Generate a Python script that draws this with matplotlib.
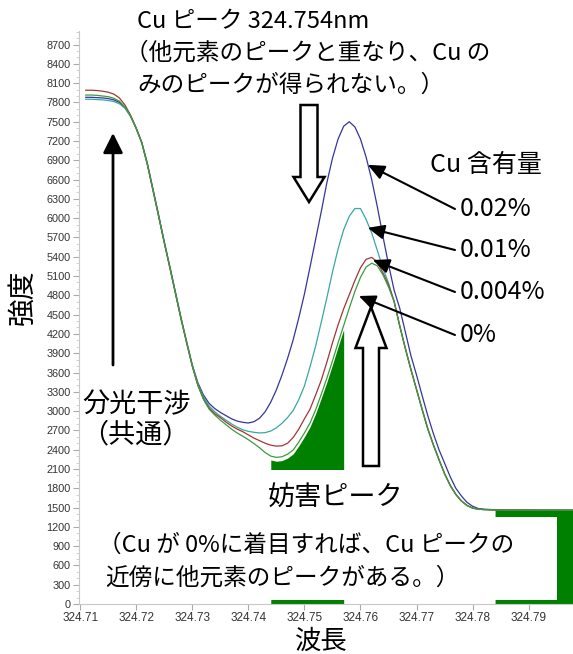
import matplotlib
matplotlib.use('Agg')
import matplotlib.pyplot as plt
from matplotlib.patches import FancyArrow, Rectangle
from matplotlib.transforms import IdentityTransform
from matplotlib.ticker import MultipleLocator
import numpy as np

plt.rcParams['font.family'] = ['Noto Sans CJK JP', 'DejaVu Sans']

# 波長 (nm)
wavelength = [
    324.711, 324.712, 324.713, 324.714, 324.715, 324.716, 324.717, 324.718, 324.719, 324.720,
    324.721, 324.722, 324.723, 324.724, 324.725, 324.726, 324.727, 324.728, 324.729, 324.730,
    324.731, 324.732, 324.733, 324.734, 324.735, 324.736, 324.737, 324.738, 324.739, 324.740,
    324.741, 324.742, 324.743, 324.744, 324.745, 324.746, 324.747, 324.748, 324.749, 324.750,
    324.751, 324.752, 324.753, 324.754, 324.755, 324.756, 324.757, 324.758, 324.759, 324.760,
    324.761, 324.762, 324.763, 324.764, 324.765, 324.766, 324.767, 324.768, 324.769, 324.770,
    324.771, 324.772, 324.773, 324.774, 324.775, 324.776, 324.777, 324.778, 324.779, 324.780,
    324.781, 324.782, 324.783, 324.784, 324.785,
    324.787, 324.789, 324.791, 324.793, 324.795, 324.798]

# 強度 Cu 0.02%
cu_002 = [
    7880, 7880, 7875, 7870, 7860, 7840, 7800, 7720, 7590, 7400,
    7180, 6850, 6450, 6050, 5640, 5250, 4850, 4450, 4080, 3720,
    3440, 3250, 3120, 3040, 2980, 2930, 2880, 2845, 2825, 2815,
    2835, 2890, 2990, 3140, 3330, 3560, 3820, 4110, 4450, 4820,
    5240, 5670, 6100, 6550, 6930, 7230, 7430, 7500, 7420, 7230,
    6950, 6600, 6180, 5720, 5280, 4880, 4600, 4230, 3860, 3560,
    3240, 2930, 2650, 2400, 2190, 1980, 1800, 1680, 1580, 1520,
    1485, 1475, 1470, 1466, 1465,
    1463, 1462, 1461, 1460, 1460, 1459]

# 強度 Cu 0.01%
cu_001 = [
    7850, 7850, 7845, 7840, 7830, 7815, 7780, 7710, 7580, 7390,
    7170, 6840, 6440, 6040, 5630, 5240, 4840, 4440, 4070, 3710,
    3420, 3220, 3080, 2990, 2920, 2860, 2800, 2750, 2710, 2685,
    2670, 2660, 2665, 2690, 2740, 2810, 2900, 3010, 3180, 3390,
    3690, 4010, 4380, 4760, 5160, 5520, 5820, 6030, 6150, 6150,
    5980, 5770, 5500, 5220, 4990, 4700, 4330, 3980, 3650, 3340,
    3030, 2730, 2480, 2250, 2030, 1850, 1710, 1605, 1535, 1492,
    1476, 1469, 1466, 1464, 1463,
    1461, 1460, 1460, 1459, 1459, 1458]

# 強度 Cu 0.004%
cu_0004 = [
    7990, 7990, 7985, 7975, 7960, 7930, 7870, 7760, 7600, 7400,
    7170, 6830, 6430, 6030, 5620, 5230, 4830, 4430, 4060, 3700,
    3400, 3190, 3050, 2960, 2900, 2830, 2770, 2720, 2680, 2630,
    2580, 2540, 2500, 2470, 2455, 2460, 2500, 2590, 2720, 2880,
    3030, 3250, 3480, 3760, 4060, 4340, 4590, 4810, 5030, 5230,
    5360, 5390, 5320, 5150, 4960, 4710, 4325, 3975, 3645, 3335,
    3025, 2725, 2475, 2245, 2025, 1845, 1705, 1602, 1532, 1491,
    1475, 1468, 1465, 1463, 1462,
    1461, 1460, 1460, 1459, 1459, 1458]

# 強度 Cu 0%
cu_0 = [
    7915, 7915, 7910, 7900, 7890, 7865, 7820, 7730, 7590, 7400,
    7170, 6830, 6430, 6030, 5620, 5230, 4830, 4430, 4060, 3700,
    3400, 3180, 3030, 2940, 2860, 2790, 2720, 2660, 2610, 2555,
    2495, 2430, 2355, 2300, 2280, 2290, 2330, 2395, 2520, 2660,
    2815, 3020, 3260, 3510, 3780, 4060, 4330, 4600, 4860, 5080,
    5240, 5300, 5260, 5120, 4930, 4700, 4320, 3970, 3640, 3330,
    3020, 2720, 2470, 2240, 2020, 1840, 1700, 1600, 1530, 1490,
    1475, 1468, 1465, 1463, 1462,
    1460, 1460, 1459, 1459, 1458, 1458]

x_ticks = [324.71, 324.72, 324.73, 324.74, 324.75, 324.76, 324.77, 324.78, 324.79]

W, H = 573, 654
fx = lambda x: x / W
fy = lambda y: 1 - y / H

fig = plt.figure(figsize=(W / 100, H / 100), dpi=100)
ax = fig.add_axes([79 / W, 50 / H, 494 / W, 573 / H])

wl = np.array(wavelength)
g = np.array(cu_0)

# 緑の塗り (一部は白い枠で隠れている)
m1 = (wl >= 324.744) & (wl <= 324.757)
ax.fill_between(wl[m1], 0, g[m1] - 60, color='#008000', lw=0, zorder=1)
ax.add_patch(Rectangle((324.7425, 62), 0.016, 2084 - 62, color='white', lw=0, zorder=2))
m2 = wl >= 324.784
ax.fill_between(wl[m2], 0, g[m2], color='#008000', lw=0, zorder=1)
ax.add_patch(Rectangle((324.7839, 62), 324.7950 - 324.7839, 1353 - 62, color='white', lw=0, zorder=2))

ax.plot(wavelength, cu_002, color='#35359a', lw=0.9, zorder=3)
ax.plot(wavelength, cu_001, color='#3aa6a6', lw=0.9, zorder=3)
ax.plot(wavelength, cu_0004, color='#a23636', lw=0.9, zorder=3)
ax.plot(wavelength, cu_0, color='#3c9c3c', lw=0.9, zorder=3)

ax.set_xlim(324.7098, 324.7979)
ax.set_ylim(0, 8911)
ax.set_xticks(x_ticks)
ax.set_xticklabels(['%.2f' % v for v in x_ticks])
ax.set_yticks(range(0, 8701, 300))
ax.yaxis.set_minor_locator(MultipleLocator(100))
for s in ['top', 'right']:
    ax.spines[s].set_visible(False)
for s in ['left', 'bottom']:
    ax.spines[s].set_color('#c8c8c8')
ax.tick_params(direction='out', length=4, color='#aaaaaa', labelcolor='#333333', pad=2)
ax.tick_params(axis='x', labelsize=8.5)
ax.tick_params(axis='y', labelsize=7.8)
ax.tick_params(which='minor', length=2, color='#cccccc')
plt.setp(ax.get_xticklabels() + ax.get_yticklabels(), family='Liberation Sans')

# 軸ラベル
fig.text(fx(22), fy(297), '強度', rotation=90, fontsize=20, ha='center', va='center')
fig.text(fx(321), fy(641), '波長', fontsize=19, ha='center', va='center')

# 注記
fs = 17
fig.text(fx(137), fy(22), 'Cu ピーク 324.754nm', fontsize=fs, va='center')
fig.text(fx(125), fy(53), '（他元素のピークと重なり、Cu の', fontsize=fs, va='center')
fig.text(fx(137), fy(85), 'みのピークが得られない。）', fontsize=fs, va='center')
fig.text(fx(82), fy(405), '分光干涉', fontsize=19.5, va='center')
fig.text(fx(81), fy(435), '（共通）', fontsize=19.5, va='center')
fig.text(fx(430), fy(165), 'Cu 含有量', fontsize=18, va='center')
labels = ['0.02%', '0.01%', '0.004%', '0%']
label_y = [209, 250, 292, 335]
tips = [(324.7613, 6830), (324.7613, 5850), (324.7622, 5350), (324.7597, 4790)]
for lab, ly, tip in zip(labels, label_y, tips):
    fig.text(fx(460), fy(ly), lab, fontsize=18, va='center')
    ax.annotate('', xy=tip, xycoords='data', xytext=(455, H - ly), textcoords='figure pixels',
                arrowprops=dict(arrowstyle='-|>,head_length=0.5,head_width=0.22', color='black',
                                lw=1.5, shrinkA=0, shrinkB=0, mutation_scale=20), zorder=5)
fig.text(fx(268), fy(497), '妨害ピーク', fontsize=19.5, va='center')
fig.text(fx(98), fy(545), '（Cu が 0%に着目すれば、Cu ピークの', fontsize=fs, va='center')
fig.text(fx(105), fy(578), '近傍に他元素のピークがある。）', fontsize=fs, va='center')

# 矢印
fig.add_artist(FancyArrow(309, H - 105, 0, -97, width=17, head_width=31, head_length=25,
                          length_includes_head=True, facecolor='white', edgecolor='black',
                          linewidth=1.8, transform=IdentityTransform()))
fig.add_artist(FancyArrow(371, H - 466, 0, 159, width=16, head_width=31, head_length=41,
                          length_includes_head=True, facecolor='white', edgecolor='black',
                          linewidth=1.8, transform=IdentityTransform()))
ax.annotate('', xy=(113, H - 133), xycoords='figure pixels', xytext=(113, H - 365),
            textcoords='figure pixels',
            arrowprops=dict(arrowstyle='-|>,head_length=0.6,head_width=0.3', color='black',
                            lw=2, shrinkA=0, shrinkB=0, mutation_scale=20))

plt.savefig('out.png', dpi=100)
